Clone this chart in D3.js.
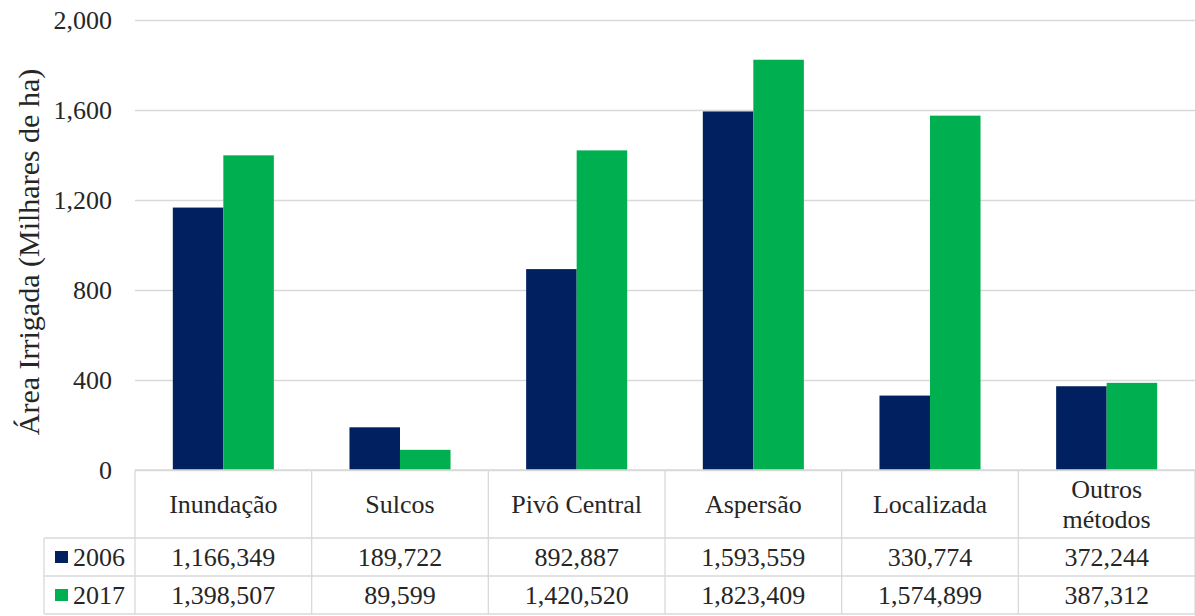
<!DOCTYPE html>
<html>
<head>
<meta charset="utf-8">
<script src="https://cdn.jsdelivr.net/npm/d3@7"></script>
<style>
  html, body { margin: 0; padding: 0; background: #fff; }
  svg { display: block; }
</style>
</head>
<body>
<svg id="chart" width="1195" height="616"></svg>
<script>
// ---- data ----
const categories = ["Inundação", "Sulcos", "Pivô Central", "Aspersão", "Localizada", "Outros\nmétodos"];
const seriesNames = ["2006", "2017"];
const values2006 = [1166.349, 189.722, 892.887, 1593.559, 330.774, 372.244];
const values2017 = [1398.507, 89.599, 1420.520, 1823.409, 1574.899, 387.312];
const yTicks = [0, 400, 800, 1200, 1600, 2000];
const yLabel = "Área Irrigada (Milhares de ha)";
const colors = ["#002060", "#00B050"];

// ---- layout ----
const FONT = "'Liberation Serif', 'Times New Roman', Tinos, Times";
const TXT = "#262626";
const plotLeft = 135, plotRight = 1195, plotTop = 20, plotBottom = 470;
const headerBottom = 538, rowH = 38, tableLeft = 44;

const svg = d3.select("#chart");
const series = [values2006, values2017];

const x0 = d3.scaleBand().domain(categories).range([plotLeft, plotRight])
  .paddingInner(0.428).paddingOuter(0.214);
const x1 = d3.scaleBand().domain(seriesNames).range([0, x0.bandwidth()]);
const y = d3.scaleLinear().domain([0, 2000]).range([plotBottom, plotTop]);
const fmt = d3.format(",");

function addText(sel) {
  return sel.append("text").style("font-family", FONT).attr("fill", TXT);
}

// gridlines + tick labels
const yAxis = svg.append("g")
  .attr("transform", `translate(${plotLeft},0)`)
  .call(d3.axisLeft(y).tickValues(yTicks).tickSize(-(plotRight - plotLeft)).tickPadding(23).tickFormat(fmt));
yAxis.select(".domain").remove();
yAxis.selectAll(".tick line").attr("stroke", "#d9d9d9").attr("stroke-width", 1.3);
yAxis.selectAll(".tick text").attr("font-size", 26).style("font-family", FONT).attr("fill", TXT);

// bars
seriesNames.forEach((s, si) => {
  svg.append("g").selectAll("rect")
    .data(categories.map((c, i) => ({ c, v: series[si][i] })))
    .join("rect")
    .attr("x", d => x0(d.c) + x1(s))
    .attr("y", d => y(d.v))
    .attr("width", x1.bandwidth())
    .attr("height", d => y(0) - y(d.v))
    .attr("fill", colors[si]);
});

// y label
addText(svg)
  .attr("transform", `translate(39,252) rotate(-90)`)
  .attr("text-anchor", "middle")
  .attr("font-size", 30)
  .text(yLabel);

// ---- data table ----
const grid = svg.append("g").attr("stroke", "#d9d9d9").attr("stroke-width", 1.3);
const step = x0.step();
const colEdges = categories.map(c => x0(c) - x0.paddingOuter() * step).concat([plotRight]);
grid.append("line").attr("x1", plotLeft).attr("x2", plotRight).attr("y1", plotBottom).attr("y2", plotBottom);
[0, 1, 2].forEach(r => {
  const yy = headerBottom + r * rowH;
  grid.append("line").attr("x1", tableLeft).attr("x2", plotRight).attr("y1", yy).attr("y2", yy);
});
colEdges.forEach(xx => {
  grid.append("line").attr("x1", xx).attr("x2", xx).attr("y1", plotBottom).attr("y2", headerBottom + 2 * rowH);
});
grid.append("line").attr("x1", tableLeft).attr("x2", tableLeft).attr("y1", headerBottom).attr("y2", headerBottom + 2 * rowH);

// header labels
categories.forEach(c => {
  const lines = c.split("\n");
  const cx = x0(c) + x0.bandwidth() / 2;
  const cy = (plotBottom + headerBottom) / 2;
  const lh = 30;
  const t = addText(svg).attr("text-anchor", "middle").attr("font-size", 26);
  lines.forEach((ln, k) => {
    t.append("tspan").attr("x", cx)
      .attr("y", cy + (k - (lines.length - 1) / 2) * lh)
      .attr("dy", "0.35em").text(ln);
  });
});

// rows
seriesNames.forEach((s, si) => {
  const cy = headerBottom + si * rowH + rowH / 2;
  svg.append("rect").attr("x", 55).attr("y", cy - 6).attr("width", 13).attr("height", 12).attr("fill", colors[si]);
  addText(svg).attr("x", 73).attr("y", cy).attr("dy", "0.35em").attr("font-size", 26).text(s);
  categories.forEach((c, i) => {
    addText(svg)
      .attr("x", x0(c) + x0.bandwidth() / 2).attr("y", cy).attr("dy", "0.35em")
      .attr("text-anchor", "middle").attr("font-size", 26)
      .text(fmt(Math.round(series[si][i] * 1000)));
  });
});
</script>
</body>
</html>
